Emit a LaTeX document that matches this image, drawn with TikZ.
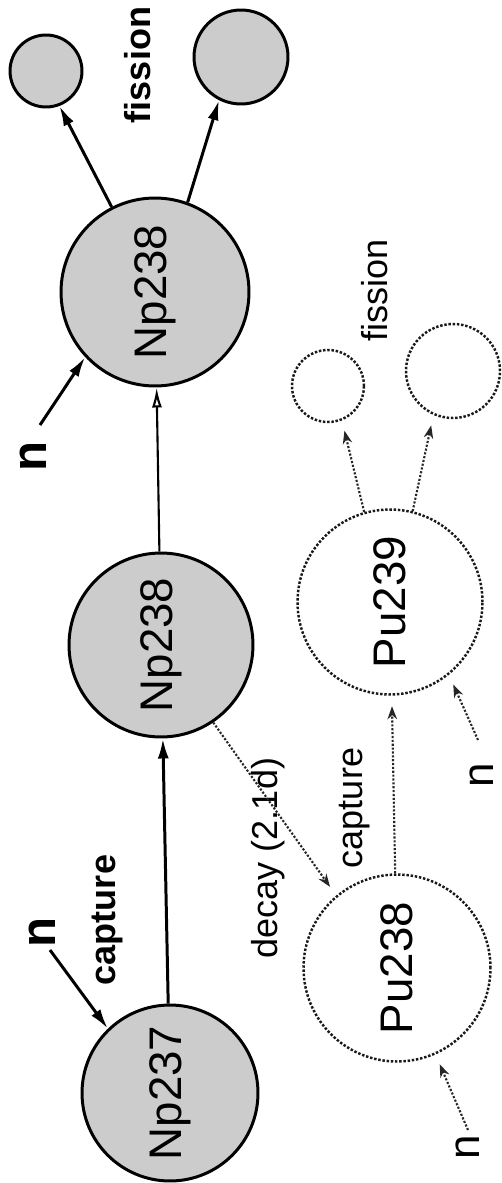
\documentclass[tikz,border=0pt]{standalone}
\usepackage{fontspec}
\setmainfont{Liberation Sans}
\usepackage{graphicx}
\usetikzlibrary{arrows.meta}
\begin{document}
\begin{tikzpicture}[x=0.02cm,y=-0.02cm,
  np/.style={circle,draw=black,line width=1.7pt,fill=black!20,inner sep=0pt,font=\fontsize{26}{30}\selectfont},
  pu/.style={circle,draw=black!90,densely dotted,line width=1.4pt,inner sep=0pt,font=\fontsize{26}{30}\selectfont},
  lab/.style={rotate=90,inner sep=0pt,font=\fontsize{20.5}{24}\selectfont},
  blab/.style={rotate=90,inner sep=0pt,font=\bfseries\fontsize{20.5}{24}\selectfont},
  bn/.style={rotate=90,inner sep=0pt,font=\bfseries\fontsize{28}{30}\selectfont},
  rn/.style={rotate=90,inner sep=0pt,font=\fontsize{25}{30}\selectfont},
  thickarrow/.style={-{Latex[length=4mm,width=2.2mm]},line width=1.7pt},
  thinarrow/.style={-{Latex[length=4mm,width=2mm,open]},line width=1.2pt},
  dotarrow/.style={-{Stealth[length=2.6mm,width=1.9mm]},densely dotted,line width=1.2pt,draw=black!85,shorten >=6pt}
]
\useasboundingbox (0,0) rectangle (501,1183);

% solid Np chain
\node[np,minimum size=3.52cm] (np1) at (170,1093) {\rotatebox{90}{Np237}};
\node[np,minimum size=3.68cm] (np2) at (161,645) {\rotatebox{90}{Np238}};
\node[np,minimum size=3.76cm] (np3) at (155,292) {\rotatebox{90}{Np238}};
\node[np,minimum size=1.44cm] (f1) at (46,71) {};
\node[np,minimum size=1.88cm] (f2) at (241,57) {};

% dotted Pu chain
\node[pu,minimum size=3.74cm] (pu8) at (397,968) {\rotatebox{90}{Pu238}};
\node[pu,minimum size=3.70cm] (pu9) at (390,602) {\rotatebox{90}{Pu239}};
\node[pu,minimum size=1.44cm] (g1) at (328,386) {};
\node[pu,minimum size=1.88cm] (g2) at (453,371) {};

% labels
\node[blab] (fisA) at (138,65) {fission};
\node[lab] (fisB) at (375,290) {fission};
\node[blab] (capA) at (107,920) {capture};
\node[lab] (capB) at (355,808) {capture};
\node[lab] (dec) at (268,858) {decay (2.1d)};
\node[bn] (nA) at (33,456) {n};
\node[bn] (nB) at (42,932) {n};
\node[rn] (nC) at (482,775) {n};
\node[rn] (nD) at (468,1147) {n};

\coordinate (nAs) at (40,425);
\coordinate (nBs) at (50,950);
\coordinate (nCs) at (478,740);
\coordinate (nDs) at (468,1130);

% solid connectors
\draw[thickarrow] (np1) -- (np2);
\draw[thinarrow] (np2) -- (np3);
\draw[thickarrow] (np3.117) -- (f1.-69);
\draw[thickarrow] (np3.70) -- (f2.243);
\draw[thickarrow] (nAs) -- (np3.223);
\draw[thickarrow] (nBs) -- (np1.134);

% dotted connectors
\draw[dotarrow] (np2.-56) -- (pu8.130);
\draw[dotarrow] (pu8) -- (pu9);
\draw[dotarrow] (pu9.106) -- (g1.-68);
\draw[dotarrow] (pu9.76) -- (g2.246);
\draw[dotarrow] (nCs) -- (pu9.-51);
\draw[dotarrow] (nDs) -- (pu8.-66);
\end{tikzpicture}
\end{document}
